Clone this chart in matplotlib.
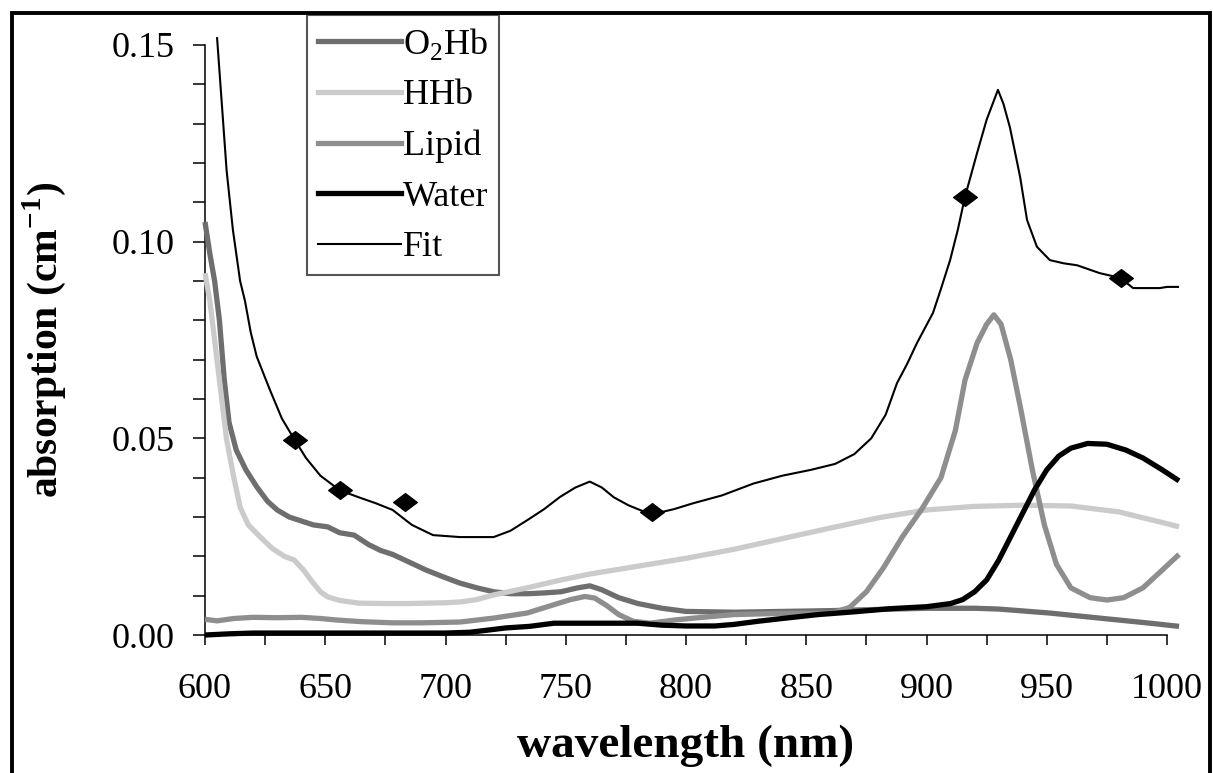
import numpy as np
import matplotlib
matplotlib.use("Agg")
import matplotlib.pyplot as plt
from matplotlib.lines import Line2D
from matplotlib.patches import Rectangle
from matplotlib.path import Path
from matplotlib.ticker import MultipleLocator, FormatStrFormatter

plt.rcParams["font.family"] = ["Liberation Serif", "DejaVu Serif"]
plt.rcParams["mathtext.fontset"] = "custom"
plt.rcParams["mathtext.rm"] = "Liberation Serif"
plt.rcParams["mathtext.bf"] = "Liberation Serif:bold"

# ---- data (wavelength nm, absorption cm^-1) ----
o2hb_nm = [600, 602, 604, 606, 608, 610, 613, 617, 621.6, 626, 630, 635, 640, 645, 651, 656,
           662, 668, 673, 678, 685, 692, 699, 706, 713, 720, 727, 734, 741, 748, 755, 760,
           765, 772, 780, 790, 800, 820, 840, 860, 880, 900, 920, 930, 951, 972, 993, 1005]
o2hb_val = [0.105, 0.097, 0.090, 0.080, 0.065, 0.054, 0.047, 0.042, 0.0376, 0.034, 0.0318, 0.030,
            0.029, 0.028, 0.0275, 0.026, 0.0254, 0.023, 0.0215, 0.0205, 0.0185, 0.0165, 0.0148,
            0.0132, 0.012, 0.011, 0.0105, 0.0105, 0.0107, 0.011, 0.012, 0.0125, 0.0115, 0.0095,
            0.008, 0.0068, 0.006, 0.0058, 0.006, 0.0062, 0.0065, 0.0068, 0.0068, 0.0066, 0.0056,
            0.0043, 0.003, 0.0022]

hhb_nm = [600, 602, 604, 606, 609, 612, 614.6, 618, 623, 628, 633, 637, 641, 644, 648, 651, 656,
          664, 675, 685, 692, 700, 706, 713, 720, 734, 748, 760, 780, 800, 820, 840, 860, 880,
          900, 920, 940, 960, 980, 1000, 1005]
hhb_val = [0.092, 0.085, 0.075, 0.0648, 0.0496, 0.040, 0.0325, 0.028, 0.0249, 0.022, 0.020,
           0.0191, 0.0165, 0.014, 0.011, 0.0097, 0.0088, 0.0081, 0.008, 0.008, 0.0081, 0.0082,
           0.0084, 0.009, 0.0102, 0.012, 0.014, 0.0155, 0.0175, 0.0195, 0.0218, 0.0245, 0.0272,
           0.0298, 0.0318, 0.0327, 0.033, 0.0328, 0.0313, 0.0283, 0.0275]

lipid_nm = [600, 605, 612, 620, 630, 640, 648, 655, 665, 678, 690, 706, 720, 734, 745, 752, 758,
            762, 767, 772, 778, 785, 795, 805, 820, 840, 860, 868, 875, 882, 890, 898, 906, 912,
            916, 921, 925, 928, 931, 935, 939, 944, 949, 954, 960, 968, 975, 982, 990, 998, 1005]
lipid_val = [0.0040, 0.0036, 0.0042, 0.0045, 0.0044, 0.0045, 0.0042, 0.0038, 0.0034, 0.0031,
             0.0031, 0.0033, 0.0043, 0.0056, 0.0077, 0.0090, 0.0098, 0.0094, 0.0075, 0.0052,
             0.0035, 0.0030, 0.0038, 0.0044, 0.0052, 0.0055, 0.0055, 0.0070, 0.0110, 0.0170,
             0.0250, 0.0320, 0.0400, 0.0520, 0.0648, 0.0742, 0.0790, 0.0814, 0.0790, 0.0700,
             0.0580, 0.0420, 0.0280, 0.0180, 0.0120, 0.0095, 0.0089, 0.0095, 0.0120, 0.0165, 0.0205]

water_nm = [600, 610, 620, 700, 710, 717, 725, 735, 745, 760, 780, 790, 800, 812, 820, 830, 840,
            855, 870, 885, 900, 910, 915, 920, 925, 930, 935, 940, 945, 950, 955, 960, 967, 975,
            983, 990, 998, 1005]
water_val = [0.0000, 0.0003, 0.0005, 0.0005, 0.0007, 0.0012, 0.0018, 0.0022, 0.0030, 0.0030,
             0.0030, 0.0025, 0.0023, 0.0023, 0.0027, 0.0035, 0.0042, 0.0052, 0.0059, 0.0067,
             0.0072, 0.0080, 0.0090, 0.0110, 0.0140, 0.0190, 0.0250, 0.0310, 0.0370, 0.0420,
             0.0455, 0.0475, 0.0487, 0.0485, 0.0470, 0.0450, 0.0420, 0.0392]

fit_nm = [605, 607, 609, 611.6, 614.6, 616.6, 619, 621.5, 627, 632, 636.6, 642, 648, 656, 664,
          671, 678, 686, 694.8, 706, 720, 727, 734, 741, 747.6, 754, 760, 765, 770, 776, 782,
          788, 795, 803, 815, 828, 840, 852, 862, 870, 877, 883, 887.7, 892, 896, 902.7, 906,
          909.8, 913, 916, 921, 925, 929.7, 932, 934.7, 938.9, 941.8, 945.9, 951.3, 957, 962.6,
          972, 980.5, 985.9, 997, 1000, 1005]
fit_val = [0.152, 0.135, 0.118, 0.103, 0.090, 0.085, 0.077, 0.0708, 0.0623, 0.055, 0.0503,
           0.045, 0.0405, 0.0368, 0.035, 0.0335, 0.0318, 0.028, 0.0254, 0.0249, 0.0249, 0.0265,
           0.0292, 0.032, 0.0351, 0.0375, 0.039, 0.0375, 0.035, 0.033, 0.0315, 0.031, 0.032,
           0.0335, 0.0355, 0.0385, 0.0405, 0.042, 0.0435, 0.046, 0.050, 0.056, 0.064, 0.069,
           0.0742, 0.0819, 0.088, 0.0953, 0.103, 0.1114, 0.1225, 0.131, 0.1386, 0.135, 0.129,
           0.1165, 0.1055, 0.0987, 0.0953, 0.0945, 0.094, 0.092, 0.0908, 0.0882, 0.0882, 0.0885,
           0.0885]

meas_nm = [637.4, 656, 683, 786, 916, 981]
meas_val = [0.0496, 0.0369, 0.0338, 0.0313, 0.1114, 0.0908]

series = [
    ("O$_2$Hb", o2hb_nm, o2hb_val, "#6e6e6e", 3.8),
    ("HHb", hhb_nm, hhb_val, "#cbcbcb", 3.8),
    ("Lipid", lipid_nm, lipid_val, "#8e8e8e", 3.8),
    ("Water", water_nm, water_val, "#000000", 3.8),
    ("Fit", fit_nm, fit_val, "#000000", 1.5),
]

fig = plt.figure(figsize=(12.13, 7.73), dpi=100)
ax = fig.add_axes([0.169, 0.1785, 0.7931, 0.7633])

handles = []
for name, xs, ys, c, lw in series:
    ax.plot(xs, ys, color=c, lw=lw, clip_on=False, solid_capstyle="butt", zorder=3)
    handles.append(Line2D([], [], color=c, lw=lw, label=name))

# diamonds are wider than tall in the source
diamond = Path([(-1.33, 0), (0, 1), (1.33, 0), (0, -1), (-1.33, 0)],
               [Path.MOVETO, Path.LINETO, Path.LINETO, Path.LINETO, Path.CLOSEPOLY])
ax.plot(meas_nm, meas_val, ls="none", marker=diamond, ms=17, color="black", zorder=4, clip_on=False)

ax.set_xlim(600, 1000)
ax.set_ylim(0, 0.15)
for s in ("top", "right"):
    ax.spines[s].set_visible(False)
for s in ("left", "bottom"):
    ax.spines[s].set_linewidth(1.1)
ax.xaxis.set_major_locator(MultipleLocator(50))
ax.xaxis.set_minor_locator(MultipleLocator(25))
ax.yaxis.set_major_locator(MultipleLocator(0.05))
ax.yaxis.set_minor_locator(MultipleLocator(0.01))
ax.yaxis.set_major_formatter(FormatStrFormatter("%.2f"))
ax.tick_params(axis="x", which="both", direction="out", length=7, width=1.1,
               labelsize=26, pad=20)
ax.tick_params(axis="y", which="both", direction="out", length=8.6, width=1.1,
               labelsize=26, pad=13)

ax.set_xlabel("wavelength (nm)", fontsize=34, fontweight="bold", labelpad=14)
ax.set_ylabel(r"absorption (cm$^{\mathbf{-1}}$)", fontsize=30, fontweight="bold", labelpad=32)

leg = ax.legend(handles=handles, loc="upper left", bbox_to_anchor=(307 / 1213, 1 - 15 / 773),
                bbox_transform=fig.transFigure, borderaxespad=0, fontsize=26,
                handlelength=2.3, handletextpad=0.05, borderpad=0.3, labelspacing=0.48,
                fancybox=False, framealpha=1, edgecolor="#555555")
leg.get_frame().set_linewidth(1.5)

# outer frame around the whole picture (bottom edge cut off in the source)
fig.patches.append(Rectangle((12 / 1213, -0.05), (1210 - 12) / 1213, 1 - 13 / 773 + 0.05,
                             transform=fig.transFigure, fill=False, lw=2.8, ec="black"))

fig.savefig("out.png", dpi=100)
